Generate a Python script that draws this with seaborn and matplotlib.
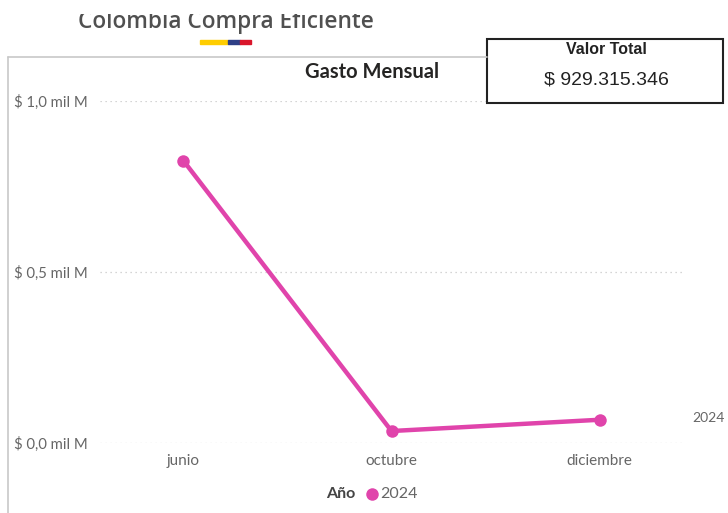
import pandas as pd
import matplotlib.pyplot as plt
import seaborn as sns
from matplotlib.lines import Line2D
from matplotlib.patches import Rectangle

# Datos (miles de millones de pesos)
meses = ["junio", "octubre", "diciembre"]
gasto = [0.826, 0.035, 0.068]
anio = "2024"
valor_total = "$ 929.315.346"
yticks = [0.0, 0.5, 1.0]
ytick_labels = ["$ 0,0 mil M", "$ 0,5 mil M", "$ 1,0 mil M"]

rosa = "#E044AB"
gris = "#666666"


def plot_gasto():
    sns.set_style("white")
    plt.rcParams["font.family"] = ["Lato", "DejaVu Sans"]

    df = pd.DataFrame({"mes": meses, "gasto": gasto, "anio": anio})
    df["pos"] = range(len(meses))

    fig = plt.figure(figsize=(7.28, 5.13), dpi=100)
    ax = fig.add_axes([100 / 728, 1 - 443 / 513, 583 / 728, 342 / 513])

    sns.lineplot(data=df, x="pos", y="gasto", color=rosa, linewidth=3.2,
                 marker="o", markersize=9, markeredgewidth=0, ax=ax,
                 legend=False)

    ax.set_xlim(-0.4, 2.4)
    ax.set_ylim(0, 1.0)
    ax.set_xticks(df["pos"])
    ax.set_xticklabels(meses)
    ax.set_yticks(yticks)
    ax.set_yticklabels(ytick_labels)
    ax.tick_params(axis="both", length=0, labelcolor=gris)
    ax.tick_params(axis="y", pad=9, labelsize=10.7)
    ax.tick_params(axis="x", pad=8, labelsize=11)
    ax.set_xlabel("")
    ax.set_ylabel("")
    sns.despine(ax=ax, left=True, bottom=True)
    ax.grid(False)
    for y in yticks:
        ax.axhline(y, color="#c8c8c8", linestyle=(0, (1, 3)), linewidth=0.9,
                   zorder=0)
    ax.patch.set_alpha(0)

    # etiqueta al final de la serie
    fig.text(708 / 728, 1 - 418 / 513, anio, ha="center", va="center",
             fontsize=10, color=gris)

    # leyenda
    fig.text(355 / 728, 1 - 494 / 513, "Año", ha="right", va="center",
             fontsize=11.5, fontweight="bold", color="#444444")
    fig.add_artist(Line2D([372 / 728], [1 - 494 / 513], marker="o",
                          markersize=9, color=rosa, markeredgewidth=0))
    fig.text(380 / 728, 1 - 494 / 513, anio, ha="left", va="center",
             fontsize=11.5, color=gris)

    # título
    fig.text(372 / 728, 1 - 72 / 513, "Gasto Mensual", ha="center",
             va="center", fontsize=14.5, fontweight="bold", color="#252423")

    # encabezado cortado por arriba
    fig.text(226 / 728, 1 - 28 / 513, "Colombia Compra Eficiente",
             ha="center", va="baseline", fontsize=16.3, color="#505050",
             fontweight="semibold", family=["Open Sans", "DejaVu Sans"])
    fig.add_artist(Rectangle((0, 1 - 14 / 513), 1, 14 / 513,
                             facecolor="white", edgecolor="none",
                             transform=fig.transFigure, zorder=5))
    for x0, w, c in [(200, 28, "#FFCD00"), (228, 12, "#2E3F86"),
                     (240, 11, "#D9162B")]:
        fig.add_artist(Rectangle((x0 / 728, 1 - 44 / 513), w / 728, 4 / 513,
                                 color=c, transform=fig.transFigure))

    # marco del panel
    fig.add_artist(Line2D([8 / 728, 8 / 728], [0, 1 - 57 / 513],
                          color="#c8c8c8", linewidth=1.2))
    fig.add_artist(Line2D([8 / 728, 487 / 728], [1 - 57 / 513, 1 - 57 / 513],
                          color="#c8c8c8", linewidth=1.2))

    # tarjeta Valor Total
    fig.add_artist(Rectangle((487 / 728, 1 - 103 / 513), 236 / 728,
                             64 / 513, facecolor="white", edgecolor="#222222",
                             linewidth=1.5, transform=fig.transFigure))
    fig.text(606 / 728, 1 - 50 / 513, "Valor Total", ha="center",
             va="center", fontsize=11.5, fontweight="bold", color="#222222",
             family=["Liberation Sans", "DejaVu Sans"])
    fig.text(606 / 728, 1 - 80 / 513, valor_total, ha="center", va="center",
             fontsize=14, color="#222222",
             family=["Liberation Sans", "DejaVu Sans"])

    fig.savefig("out.png", dpi=100)


if __name__ == "__main__":
    plot_gasto()
